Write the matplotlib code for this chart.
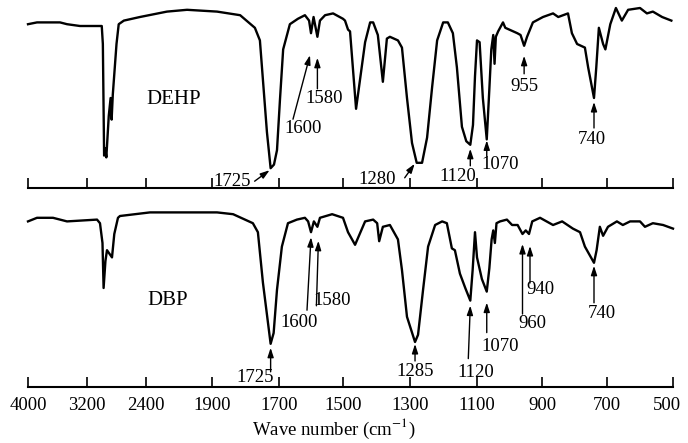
import numpy as np
import matplotlib
matplotlib.use("Agg")
import matplotlib.pyplot as plt
import matplotlib.transforms as mtransforms

plt.rcParams['font.family'] = ['Liberation Serif', 'DejaVu Serif']
plt.rcParams['mathtext.fontset'] = 'stix'

# chart paper: equal spacing between these wave numbers
tick_wn = [4000, 3200, 2400, 1900, 1700, 1500, 1300, 1100, 900, 700, 500]
tick_pos = [0, 59, 118, 184, 251, 315, 382, 449, 514, 579, 645]

# DEHP spectrum (wave number, % transmittance)
dehp_wn = [4000, 3878, 3702, 3566, 3471, 3295, 3000, 2985, 2968, 2952,
           2938, 2905, 2880, 2866, 2850, 2800, 2770, 2700, 2482, 2241,
           2089, 1885, 1816, 1772, 1757, 1736, 1725, 1715, 1706, 1697,
           1687, 1666, 1641, 1619, 1606, 1600, 1592, 1580, 1572, 1556,
           1531, 1500, 1494, 1485, 1479, 1461, 1434, 1419, 1410, 1396,
           1381, 1369, 1360, 1336, 1324, 1309, 1294, 1280, 1264, 1249,
           1234, 1219, 1201, 1187, 1172, 1160, 1145, 1132, 1120, 1112,
           1106, 1100, 1092, 1082, 1070, 1062, 1056, 1050, 1046, 1042,
           1035, 1020, 1013, 976, 966, 955, 946, 928, 897, 866,
           850, 820, 808, 792, 768, 758, 740, 733, 725, 712,
           705, 690, 673, 655, 636, 600, 579, 561, 533, 505]
dehp_t = [91, 92, 92, 92, 91, 90, 90, 80, 18, 22,
          17, 40, 50, 38, 52, 80, 91, 93, 95, 98,
          99, 98, 96, 89, 82, 31, 11, 13, 21, 49,
          77, 91, 94, 96, 93, 86, 95, 84, 93, 96,
          97, 94, 93, 88, 87, 44, 81, 92, 92, 85,
          59, 83, 84, 82, 78, 50, 25, 14, 14, 28,
          56, 82, 92, 92, 86, 67, 34, 26, 24, 35,
          62, 82, 81, 50, 27, 55, 77, 85, 69, 84,
          87, 92, 89, 86, 85, 79, 84, 92, 95, 97,
          95, 97, 86, 80, 78, 67, 50, 67, 89, 80,
          77, 91, 100, 93, 99, 100, 97, 98, 95, 93]

# DBP spectrum
dbp_wn = [4000, 3878, 3661, 3471, 3064, 3024, 2990, 2975, 2950, 2929,
          2895, 2861, 2830, 2780, 2753, 2370, 1991, 1885, 1837, 1778,
          1763, 1748, 1725, 1716, 1706, 1691, 1672, 1644, 1619, 1609,
          1600, 1591, 1580, 1572, 1534, 1500, 1485, 1464, 1434, 1410,
          1398, 1392, 1381, 1360, 1336, 1324, 1309, 1285, 1276, 1261,
          1246, 1225, 1204, 1190, 1175, 1166, 1151, 1135, 1120, 1113,
          1106, 1100, 1085, 1070, 1062, 1055, 1050, 1045, 1040, 1029,
          1008, 992, 975, 960, 950, 940, 930, 906, 866, 838,
          805, 783, 768, 740, 732, 722, 712, 697, 670, 652,
          630, 600, 585, 561, 530, 500]
dbp_t = [92, 94, 94, 92, 93, 91, 80, 55, 70, 76,
         74, 72, 85, 94, 95, 97, 97, 97, 96, 91,
         86, 58, 24, 30, 54, 78, 91, 93, 94, 92,
         86, 92, 89, 94, 96, 94, 86, 79, 92, 93,
         91, 81, 89, 90, 82, 65, 39, 25, 29, 54,
         78, 90, 92, 91, 77, 76, 63, 55, 48, 65,
         86, 72, 60, 53, 66, 82, 87, 80, 91, 92,
         93, 90, 90, 85, 87, 85, 92, 94, 90, 92,
         88, 86, 78, 69, 76, 89, 84, 89, 92, 90,
         92, 92, 89, 91, 90, 88]

dehp_marks = [1725, 1600, 1580, 1280, 1120, 1070, 955, 740]
dbp_marks = [1725, 1600, 1580, 1285, 1120, 1070, 960, 940, 740]

# pixel offsets from the band: arrow tip, arrow tail, label centre
dehp_layout = [((-1, -2), (-16, -13), (-38, -13)),
               ((-1, -22), (-18, -86), (-8, -95)),
               ((0, -21), (0, -52), (7, -62)),
               ((-2, -1), (-12, -15), (-40, -17)),
               ((0, -4), (0, -21), (-13, -32)),
               ((0, -1), (0, -17), (13, -25)),
               ((0, -10), (0, -28), (0, -41)),
               ((0, -4), (0, -30), (-2, -42))]
dbp_layout = [((0, -4), (0, -28), (-15, -34)),
              ((0, -5), (-4, -78), (-12, -90)),
              ((1, -14), (-1, -79), (15, -74)),
              ((0, -2), (0, -19), (0, -30)),
              ((0, -5), (-2, -58), (5, -72)),
              ((0, -11), (0, -41), (13, -55)),
              ((0, -10), (0, -80), (10, -89)),
              ((1, -12), (1, -49), (11, -56)),
              ((0, -3), (0, -40), (8, -51))]

# both directions increasing in wave number, measured from the 500 end
wn_up = tick_wn[::-1]
pos_up = [tick_pos[-1] - p for p in tick_pos[::-1]]


def fwd(w):
    return np.interp(w, wn_up, pos_up)


def inv(p):
    return np.interp(p, pos_up, wn_up)


fig = plt.figure(figsize=(6.88, 4.43), dpi=100)
ax1 = fig.add_axes([28/688, 1 - 188/443, 645/688, 180/443])
ax2 = fig.add_axes([28/688, 1 - 387/443, 645/688, 180/443])


def setup(ax):
    ax.set_xscale('function', functions=(fwd, inv))
    ax.set_xticks(tick_wn)
    ax.set_xticklabels([str(v) for v in tick_wn])
    ax.set_xlim(4000, 500)
    ax.set_ylim(0, 100)
    ax.minorticks_off()
    ax.set_yticks([])
    for s in ['left', 'right', 'top']:
        ax.spines[s].set_visible(False)
    ax.spines['bottom'].set_linewidth(1.5)
    ax.tick_params(axis='x', direction='in', length=7, width=1.2,
                   pad=7, labelsize=13.5)
    ax.patch.set_alpha(0)


def mark_peaks(ax, wn, t, marks, layout):
    for m, (tip, tail, txt) in zip(marks, layout):
        y = np.interp(m, wn[::-1], t[::-1])
        tip_tr = mtransforms.offset_copy(ax.transData, x=tip[0], y=tip[1], units='dots')
        tail_tr = mtransforms.offset_copy(ax.transData, x=tail[0], y=tail[1], units='dots')
        txt_tr = mtransforms.offset_copy(ax.transData, x=txt[0], y=txt[1], units='dots')
        ax.annotate('', xy=(m, y), xycoords=tip_tr, xytext=(m, y), textcoords=tail_tr,
                    arrowprops=dict(arrowstyle='-|>,head_length=0.55,head_width=0.18',
                                    color='black', lw=1, shrinkA=0, shrinkB=0),
                    annotation_clip=False)
        ax.text(m, y, str(m), transform=txt_tr, ha='center', va='center',
                fontsize=13.5)


for ax in (ax1, ax2):
    setup(ax)

ax1.plot(dehp_wn, dehp_t, color='black', lw=1.7, clip_on=False)
ax2.plot(dbp_wn, dbp_t, color='black', lw=1.7, clip_on=False)
ax1.tick_params(axis='x', labelbottom=False)

ax1.text(0.226, 0.49, 'DEHP', transform=ax1.transAxes, ha='center', va='center', fontsize=15)
ax2.text(0.217, 0.48, 'DBP', transform=ax2.transAxes, ha='center', va='center', fontsize=15)

mark_peaks(ax1, dehp_wn, dehp_t, dehp_marks, dehp_layout)
mark_peaks(ax2, dbp_wn, dbp_t, dbp_marks, dbp_layout)

# pull the end label in a little so it stays on the paper
labels = ax2.get_xticklabels()
labels[-1].set_transform(labels[-1].get_transform() + mtransforms.Affine2D().translate(-6, 0))

ax2.set_xlabel('Wave number (cm$^{-1}$)', fontsize=13.5)
ax2.xaxis.set_label_coords(0.474, -0.165)

fig.savefig('out.png', dpi=100)
